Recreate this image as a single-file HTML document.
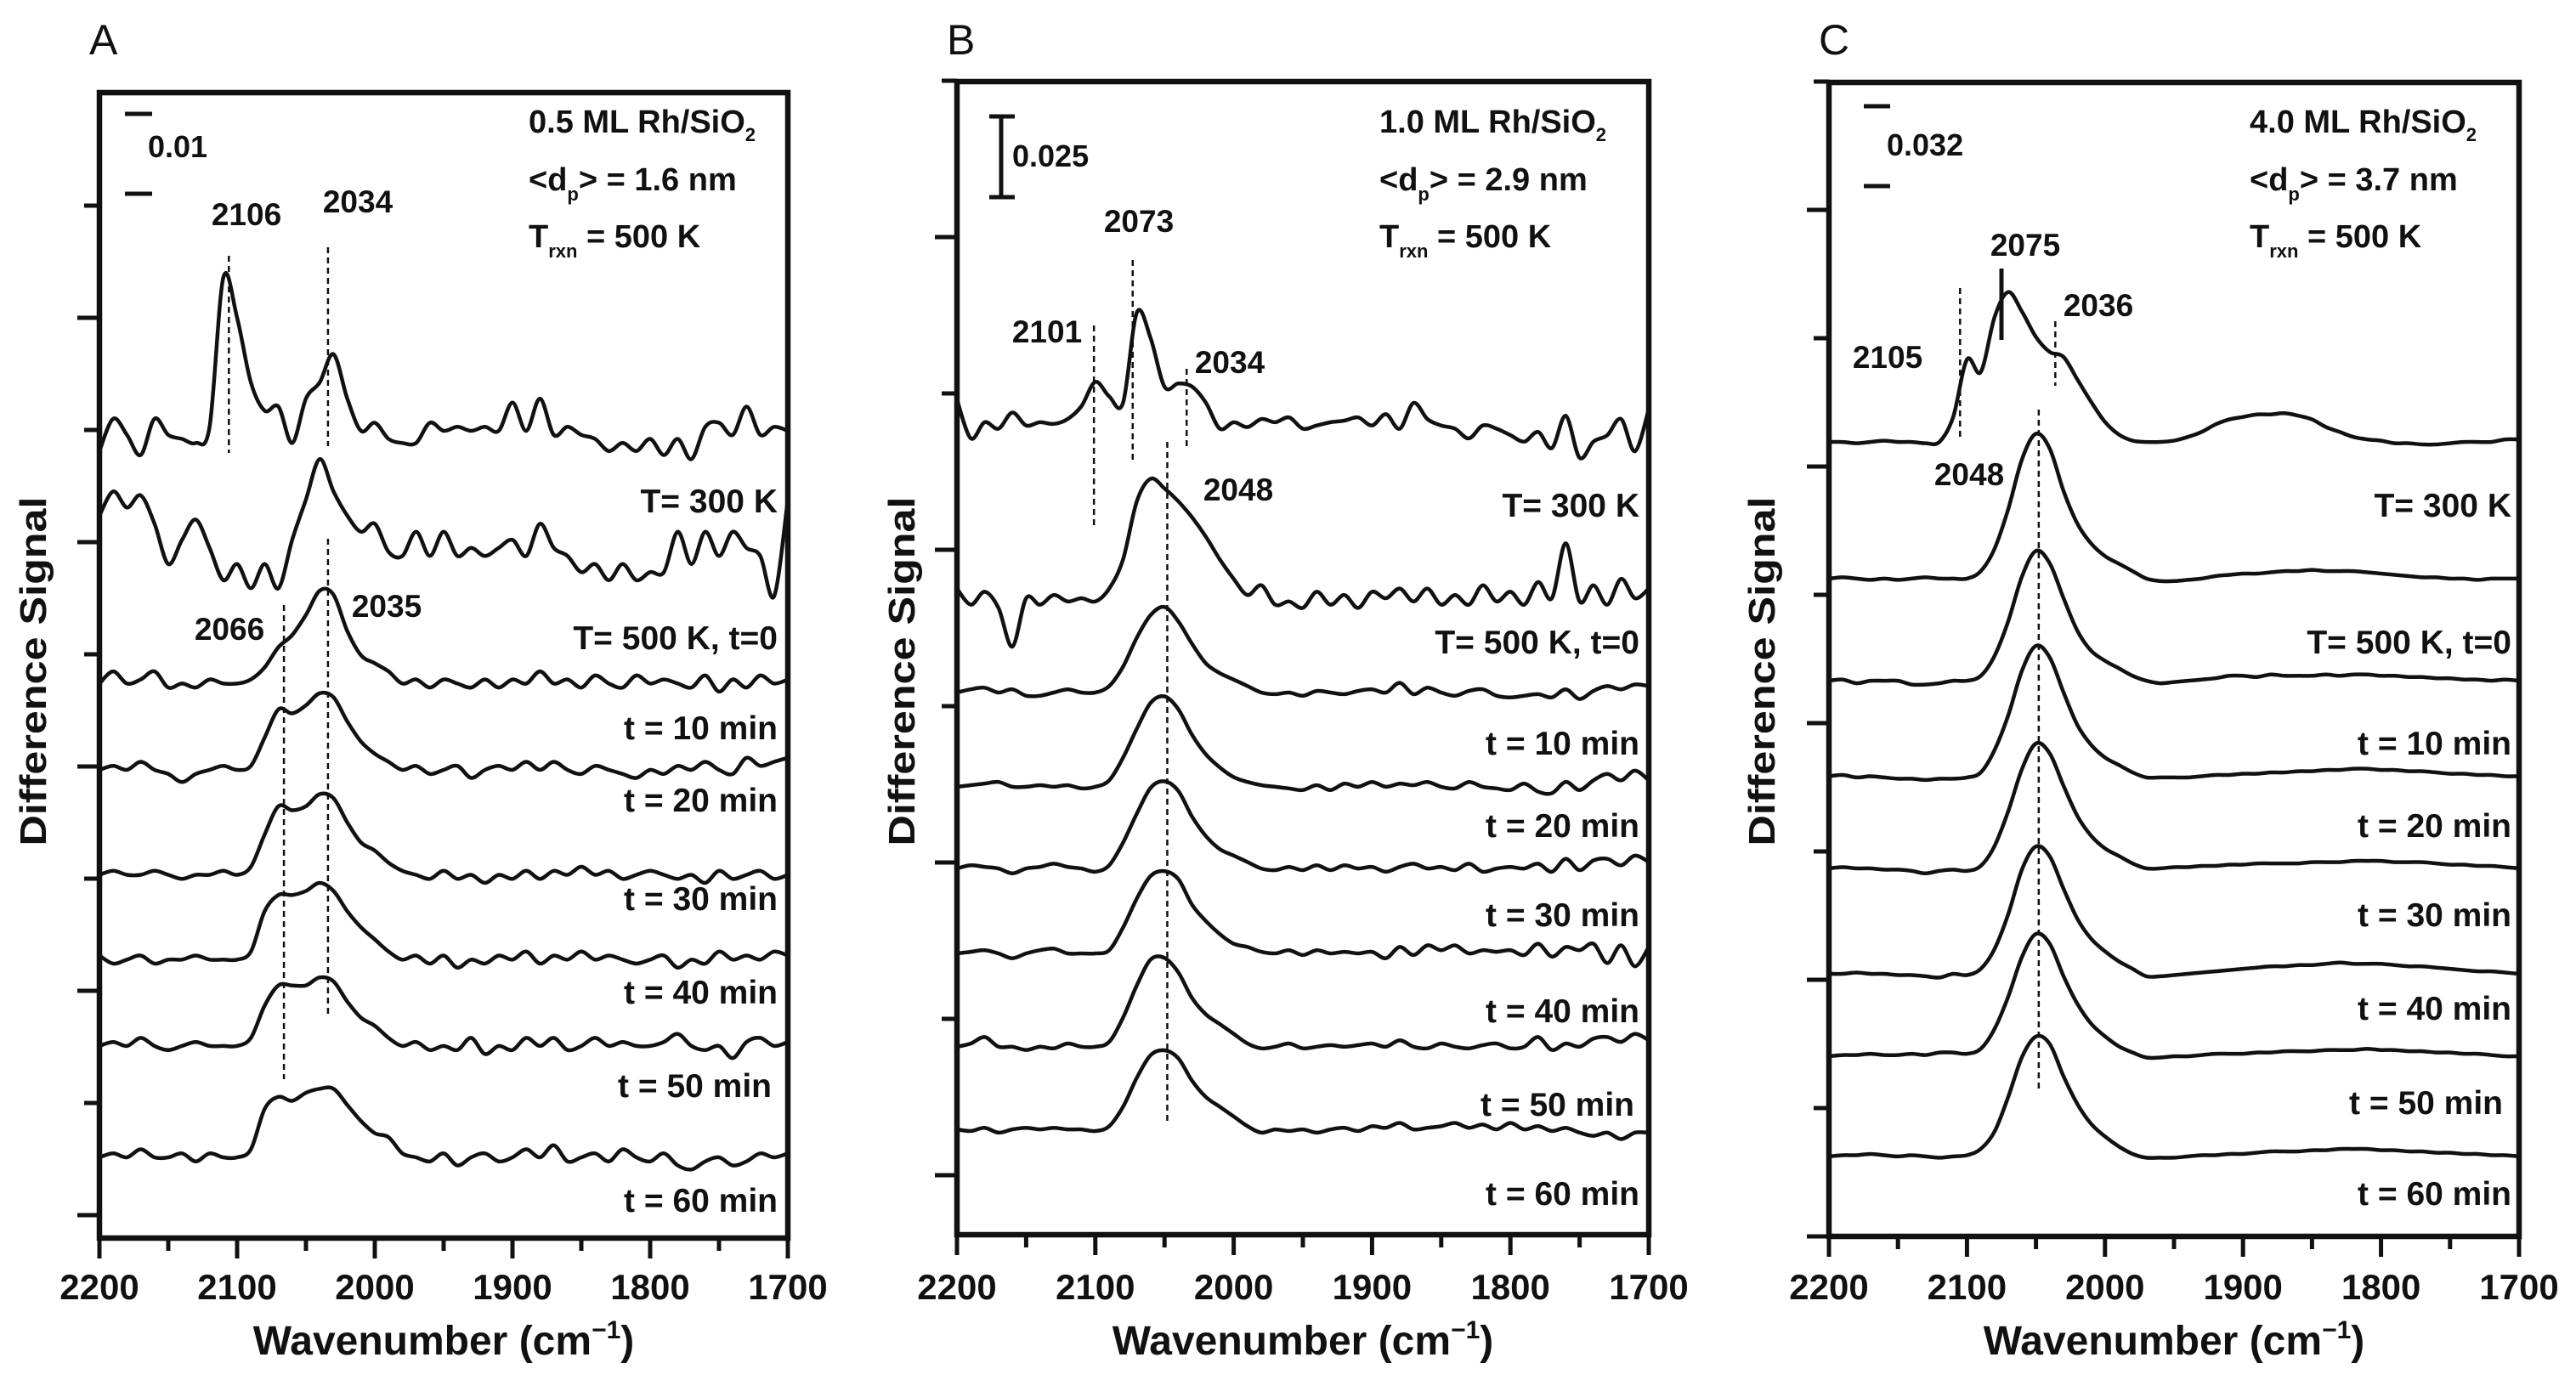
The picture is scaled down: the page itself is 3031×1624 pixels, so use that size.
<!DOCTYPE html>
<html><head><meta charset="utf-8"><style>
html,body{margin:0;padding:0;background:#fff;}
svg{display:block;font-family:"Liberation Sans",Arial,sans-serif;}
</style></head><body>
<svg id="fig" width="3031" height="1624" viewBox="0 0 3031 1624" xmlns="http://www.w3.org/2000/svg"></svg>
<script>
// ---------- DATA (difference signal, units of 0.001, values 2200 -> 1700 cm-1 step 10) ----------
const wavenumberStart = 2200, wavenumberStep = -10;
const seriesLabels = ["T= 300 K","T= 500 K, t=0","t = 10 min","t = 20 min","t = 30 min","t = 40 min","t = 50 min","t = 60 min"];
const xTickLabels = [2200,2100,2000,1900,1800,1700];

// Panel A (0.5 ML)
const offsetsA = [100,86.5,68.7,58,45,34.5,23.8,10];
const a0 = [-2.5,1.5,-0.5,-3,1.5,-0.5,-1,-1.5,0.5,19,14,6,2.5,3,-1.5,4,6,9.5,4,0,1,-1,-1.5,-1.5,1,0,0.5,0,0.5,0,3.5,0,4,-0.5,0.5,-0.5,-1,-2.5,-1.5,-2.5,-1,-3,-1,-3.5,0.5,1,-0.5,3,-0.5,0.5,0];
const a1 = [3,6,4,5.5,2,-3,0,2.5,-1,-5,-3,-6,-3,-6,0,5,10,6,3,1,2,-1.5,-2,1,-2,1,-2,-1,-2,-1,0,-2,2,-1,-2,-4,-3,-5,-3,-5,-4,-4,1,-3,1,-2,1,-1,-2,-7,5];
const a2 = [0,1.5,0,0.5,1.5,-0.5,0,-0.5,0.5,0,0,0.5,2,4.5,6,8.5,11.5,11,6.5,3.5,2.5,1.5,0,0.5,-0.5,0.5,0,-0.5,0.5,-0.5,0.5,0,1.5,0,0.5,-0.5,1,0,-0.5,1,0,0.5,0,-0.5,1,-1,0.5,-0.5,1,0,0.5];
const a3 = [0,0.5,0,1,0,-0.5,-1.5,-0.5,0,0.5,0,0.5,4,7.5,7,8,9.5,9,6,3.5,2,1,0,0.5,-0.5,0,0.5,-1,0,0.5,0,1,0,1,0,-0.5,0.5,0,-0.5,-1,0,-0.5,0.5,0,1,0,-0.5,1.5,0.5,1,1.5];
const a4 = [0,0.5,0,0,0.5,0,-0.5,0,0,0.5,0,1,5,8.5,8,8.5,10,9.5,6.5,4,3,1.5,0.5,0,-0.5,0.5,-0.5,0,-1,0,-0.5,0.5,-0.5,0.5,0,1,0,0.5,-0.5,0,0.5,0,-0.5,0,-1,0.5,-0.5,0,0.5,-0.5,0];
const a5 = [0.5,-0.5,0,0.5,-0.5,0,0,0.5,0,0,0,1,6,8,8,8.5,9.5,8.5,6,4,2.5,1,0,0.5,-0.5,0.5,-1,0,-0.5,0.5,0,1,-0.5,0.5,0,1,0,0.5,0,-0.5,0,0.5,-1,0,-0.5,1,0,0.5,0,1,0.5];
const a6 = [0,0.5,0,1,0,-0.5,0,0.5,0,0,0,1,5,7.5,7.5,7.5,8.5,8,5.5,3.5,2.5,1,0,0.5,-0.5,0,-0.5,1,-1,0,-0.5,1,0,1,-0.5,0,1,0,0.5,0,0,0.5,1.5,0,-0.5,0,-1.5,0.5,1,0,0.5];
const a7 = [0,0.5,0,1,0,0,0.5,-0.5,0.5,0,0,1,6,7.5,7,8,8.5,8.5,6.5,4.5,3,2.5,0.5,0,-0.5,0.5,-1,0,0.5,-0.5,0,1,0,1.5,-0.5,0,0.5,-0.5,1,0,-0.5,0.5,-1,-1.5,-0.5,0,-1,-0.5,0.5,0,0.5];

// Panel B (1.0 ML)
const offsetsB = [251.6,197.1,167.9,138.7,113.4,87.1,58.2,32.6];
const b0 = [7,-5,0,-2,3,-1,0,-0.5,1,5,12.5,8,6,34,26,11,12,11,6,-2,0,-1.5,1,0,1.5,-2,-1,0,0.5,1.5,-1,2.5,-2,6,1,-1,-2,-5,-1,-2,-4,-6,-3,-8,2,-11,-6,-4,1,-9,4];
const b1 = [3,-2,2,-3,-15,0,-2,1,-1,0,-1,3,12,30,37,34,30,25,19,12,6,1,4,-2,-1,-3,2,-2,1,-3,2,0,3,-1,3,-2,1,-2,4,-1,2,-2,5,0,17,-1,4,-2,6,0,3];
const b2 = [0,1,1.5,0,1,-1,-1,0,1,0,0,2,8,17,24,26.5,22,15,9,6,4,2,0,-0.5,0,-1,0.5,0,-0.5,0.5,1,0,3,-0.5,1.5,0,-1,0.5,1,-1,-1.5,-1,-0.5,-1.5,1,-2,0.5,2,1,2.5,2];
const b3 = [0,0.5,1,1.5,0,0,0.5,0,0.5,-0.5,0,2,9,18,26,28,24,16,10,6,3,1.5,0.5,0,-0.5,-1,0.5,-1,1,0,1.5,0,1,0.5,1.5,0,-0.5,1.5,0,-0.5,-1,1,-1.5,-2,1.5,-1,2,4,2,5,2];
const b4 = [0,1,0.5,0,-1.5,0,0.5,1.5,0.5,0,-1,1,8,17,25,27,24,16,10,6,4,2,0,-0.5,0.5,-0.5,1,-0.5,1,0,0.5,-1,0.5,1.5,0,0.5,-0.5,1.5,-1,0,0.5,0,1.5,-1,3,-0.5,2.5,3,1,4,2];
const b5 = [0,0.5,1,0,-1.5,0,1,1.5,0,0,0,1,8,17,24,25.5,23,15,10,6,3,2,0.5,0,1,-0.5,1,0,0.5,0,0.5,-1.5,2,-0.5,2.5,1,2.5,0,1,0.5,1,-0.5,3,-1,2,1,3,-3,2.5,-4,2];
const b6 = [0,1,3,0,0,-1,0,-0.5,1,0,0,1.5,9,19,27,27.5,23,15,10,7,4,1,-0.5,0,1,-0.5,0,0.5,0,0.5,1,0,2,0,-0.5,1,0,-0.5,0.5,1,-0.5,0,3,-1,1,0,2.5,3,1.5,4,2];
const b7 = [0,-0.5,0.5,-1,0,0.5,0,0.5,0,0,-0.5,1,7,16,23,24.5,22,15,10,7,4,1,-1,0,-0.5,0,-1,0,0.5,-0.5,1,0.5,2,0,0.5,1,2,0.5,1.5,0,2,0,1,-0.5,0.5,-1,-2,-1,-3,-1,-1];

// Panel C (4.0 ML)
const offsetsC = [318,263.3,222.4,183.7,147.3,105.1,72.1,32];
const c0 = [0,0,-0.5,0,0.5,0,0,-0.5,0,10,33,28,50,60,52,42,36,34,25,16,8,3,0.5,0,0,0.5,2,4,7,9,10,11,11,11.5,10.5,9,6,4,2,1,0.5,-0.5,-0.5,-1,-1,-0.5,0,0,0,1,1];
const c1 = [0,0.5,0,-0.5,0,-0.5,0,0.5,0,0,0,3,12,28,48,58,52,35,22,14,9,6,3,0,-1,-1,-0.5,0,1,1.5,2,2,2.5,3,3,3.5,3,3,3,2.5,2,1.5,1,0.5,0.5,0,0,-0.5,0,0,0];
const c2 = [0,0.5,-1,0,0,0,-1.5,-1.5,-1,0,0,2,10,24,42,52,47,33,20,12,8,5,2,0,-1,-0.5,0,0.5,1,2,2,1.5,2.5,2,2,2,2.5,2,2.5,2.5,2,2,1.5,1.5,1,1,0.5,0.5,0,0.5,0];
const c3 = [0.5,1,0,0.5,0,-0.5,-0.5,-1,-0.5,-0.5,0,2,11,25,43,52.7,48,34,21,13,8,5,2,0,0,0,0,0.5,1,1,1.5,1.5,2,2,2.5,2.5,3,3,3.5,3.5,3,3,2.5,2.5,2,1.5,1.5,1,1,0.5,0.5];
const c4 = [0,0.5,0,0,-0.5,-0.5,-1,-2,-1,-0.5,-1,1,9,23,40,50,46,33,21,13,8,5,2,0,0,0.5,0.5,1,1,1.5,1.5,2,2,2,2,2.5,2.5,2.5,3,3,3,2.5,2.5,2.5,2,1.5,1.5,1,1,0.5,0];
const c5 = [0,0,0.5,0,0,-0.5,-0.5,-1,-1.5,0,-0.5,2,10,24,42,51,47,34,22,14,9,5,2,-1,-1,-0.5,0,0.5,1,1.5,2,2.5,3,3,3.5,3.5,4,4.5,4,4,4,3.5,3,3,2.5,2,1.5,1,1,0.5,0];
const c6 = [0,0.5,0.5,1,0.5,0.5,1,0.5,1.5,1.5,1,3,11,24,40,49,45,32,21,13,8,4,1.5,-0.5,-0.5,0,0,0.5,1,1,1,1.5,1.5,2,2,2,2.5,2.5,2.5,3,2.5,2.5,2,2,1.5,1.5,1,1,0.5,0,0];
const c7 = [0,0.5,0.5,1,0.5,0,0.5,0,-0.5,0,0.5,3,10,24,40,48,45,32,21,13,8,4,1,-0.5,-0.5,-0.5,0,0.5,0.5,1,1,1.5,2,2,2,2.5,2.5,3,3,3,2.5,2.5,2,2,1.5,1.5,1,1,0.5,0.5,0];

// ---------- LAYOUT ----------
const NS = "http://www.w3.org/2000/svg";
const svg = document.getElementById("fig");
function mk(tag, attrs, parent){
  const e = document.createElementNS(NS, tag);
  for (const k in attrs) e.setAttribute(k, attrs[k]);
  (parent||svg).appendChild(e);
  return e;
}
const panels = [
  {id:"a", letter:"A", x0:117, x1:927, y0:109, y1:1457, k:9.5, offsets:offsetsA, series:[a0,a1,a2,a3,a4,a5,a6,a7],
   labelX:[915,915,915,915,915,915,908,915], labelY:[603,764,870,955,1071,1181,1291,1426],
   tick0:1430, tickStep:-132, nTicks:10, ytitleX:38,
   header:[622,["0.5 ML Rh/SiO","2"],["1.6"]]},
  {id:"b", letter:"B", x0:1126, x1:1940, y0:96, y1:1453, k:3.8, offsets:offsetsB, series:[b0,b1,b2,b3,b4,b5,b6,b7],
   labelX:[1929,1929,1929,1929,1929,1929,1923,1929], labelY:[608,769,888,985,1090,1203,1313,1418],
   tick0:1383, tickStep:-184, nTicks:8, ytitleX:1060,
   header:[1623,["1.0 ML Rh/SiO","2"],["2.9"]]},
  {id:"c", letter:"C", x0:2152, x1:2964, y0:97, y1:1455, k:2.94, offsets:offsetsC, series:[c0,c1,c2,c3,c4,c5,c6,c7],
   labelX:[2955,2955,2955,2955,2955,2955,2945,2955], labelY:[608,769,888,985,1090,1200,1311,1418],
   tick0:1455, tickStep:-151, nTicks:10, ytitleX:2072,
   header:[2647,["4.0 ML Rh/SiO","2"],["3.7"]]}
];

function smoothPath(pts){
  let d = "M"+pts[0][0].toFixed(1)+","+pts[0][1].toFixed(1);
  for (let i=0;i<pts.length-1;i++){
    const p0=pts[Math.max(0,i-1)], p1=pts[i], p2=pts[i+1], p3=pts[Math.min(pts.length-1,i+2)];
    const c1x=p1[0]+(p2[0]-p0[0])/6, c1y=p1[1]+(p2[1]-p0[1])/6;
    const c2x=p2[0]-(p3[0]-p1[0])/6, c2y=p2[1]-(p3[1]-p1[1])/6;
    d += " C"+c1x.toFixed(1)+","+c1y.toFixed(1)+" "+c2x.toFixed(1)+","+c2y.toFixed(1)+" "+p2[0].toFixed(1)+","+p2[1].toFixed(1);
  }
  return d;
}

panels.forEach(P=>{
  const g = mk("g",{});
  
  
  const xs = w => P.x0 + (2200 - w)*(P.x1-P.x0)/500;
  const ys = v => P.y1 - v*P.k;

  const L = mk("text",{x:P.x0-12, y:64, "font-size":50, fill:"#111"}, g);
  L.textContent = P.letter;
  
  

  for (let i=0;i<P.nTicks;i++){
    const y = P.tick0 + i*P.tickStep;
    const len = (i%2===0)?26:18;
    const t = mk("line",{x1:P.x0-len, x2:P.x0, y1:y, y2:y, stroke:"#111","stroke-width":5}, g);
    
    
  }
  for (let w=2200; w>=1700; w-=50){
    const major = (w%100===0);
    const t = mk("line",{x1:xs(w), x2:xs(w), y1:P.y1, y2:P.y1+(major?24:15), stroke:"#111","stroke-width":5}, g);
    
    
  }
  xTickLabels.forEach(w=>{
    const t = mk("text",{x:xs(w), y:1529, "text-anchor":"middle","font-size":42,"font-weight":"bold",fill:"#111"}, g);
    t.textContent = w;
    
    
  });
  const xt = mk("text",{x:(P.x0+P.x1)/2, y:1594, "text-anchor":"middle","font-size":48,"font-weight":"bold",fill:"#111"}, g);
  xt.innerHTML = 'Wavenumber (cm<tspan dy="-19" font-size="30">−1</tspan><tspan dy="19">)</tspan>';
  
  
  const yt = mk("text",{x:0, y:0, transform:"translate("+(P.ytitleX+16)+",790) rotate(-90)", "text-anchor":"middle","font-size":44,"font-weight":"bold",fill:"#111", textLength:411, lengthAdjust:"spacingAndGlyphs"}, g);
  yt.textContent = "Difference Signal";
  
  

  P.series.forEach((vals,si)=>{
    const pts = vals.map((v,i)=>[xs(wavenumberStart + i*wavenumberStep), ys(P.offsets[si]+v)]);
    const p = mk("path",{d:smoothPath(pts), fill:"none", stroke:"#111","stroke-width":4.5,"stroke-linejoin":"round"}, g);
    
    
    const lt = mk("text",{x:P.labelX[si], y:P.labelY[si], "text-anchor":"end","font-size":39,"font-weight":"bold",fill:"#111"}, g);
    lt.textContent = seriesLabels[si];
    
    
  });

  const hx = P.header[0];
  const h1 = mk("text",{x:hx, y:156, "font-size":38,"font-weight":"bold",fill:"#111"}, g);
  h1.innerHTML = P.header[1][0]+'<tspan dy="10" font-size="22">'+P.header[1][1]+'</tspan>';
  
  
  const h2 = mk("text",{x:hx, y:224, "font-size":38,"font-weight":"bold",fill:"#111"}, g);
  h2.innerHTML = '&lt;d<tspan dy="12" font-size="22">p</tspan><tspan dy="-12">&gt; = '+P.header[2][0]+' nm</tspan>';
  
  
  const h3 = mk("text",{x:hx, y:291, "font-size":38,"font-weight":"bold",fill:"#111"}, g);
  h3.innerHTML = 'T<tspan dy="12" font-size="22">rxn</tspan><tspan dy="-12"> = 500 K</tspan>';
  
  

  const fr = mk("rect",{x:P.x0, y:P.y0, width:P.x1-P.x0, height:P.y1-P.y0, fill:"none", stroke:"#111","stroke-width":6.5}, g);
  
  
  P.xs = xs;
});

function dash(panelIdx, w, ya, yb, solid){
  const x = panels[panelIdx].xs(w);
  const l = mk("line",{x1:x,x2:x,y1:ya,y2:yb,stroke:"#111","stroke-width":solid?5:2.5,"stroke-dasharray":solid?"none":"7,5"});
  
  
}
function plabel(x,y,txt){
  const t = mk("text",{x:x,y:y,"text-anchor":"middle","font-size":37,"font-weight":"bold",fill:"#111"});
  t.textContent = txt;
  
  
}
function hl(x1,x2,y){ const l=mk("line",{x1:x1,x2:x2,y1:y,y2:y,stroke:"#111","stroke-width":5});
  
   }
function sblabel(x,y,txt){ const t=mk("text",{x:x,y:y,"font-size":36,"font-weight":"bold",fill:"#111"}); t.textContent=txt;
  
   }

// Panel A
dash(0,2106,301,533); dash(0,2034,291,525);
dash(0,2066,712,1270); dash(0,2034,634,1194);
plabel(290,265,"2106"); plabel(421,250,"2034"); plabel(270,753,"2066"); plabel(455,726,"2035");
hl(147,179,134); hl(147,179,228); sblabel(174,185,"0.01");
// Panel B
dash(1,2073,306,543); dash(1,2101,383,620); dash(1,2034,434,526); dash(1,2048,520,1324);
plabel(1340,273,"2073"); plabel(1232,403,"2101"); plabel(1447,439,"2034"); plabel(1457,589,"2048");
const sb = mk("line",{x1:1178,x2:1178,y1:137,y2:232,stroke:"#111","stroke-width":5});


hl(1164,1194,137); hl(1164,1194,232); sblabel(1191,196,"0.025");
// Panel C
dash(2,2075,316,400,true); dash(2,2105,339,515); dash(2,2036,378,454); dash(2,2048,482,1286);
plabel(2383,301,"2075"); plabel(2221,433,"2105"); plabel(2469,372,"2036"); plabel(2317,571,"2048");
hl(2193,2224,125); hl(2193,2224,219); sblabel(2220,183,"0.032");
</script>
</body></html>
